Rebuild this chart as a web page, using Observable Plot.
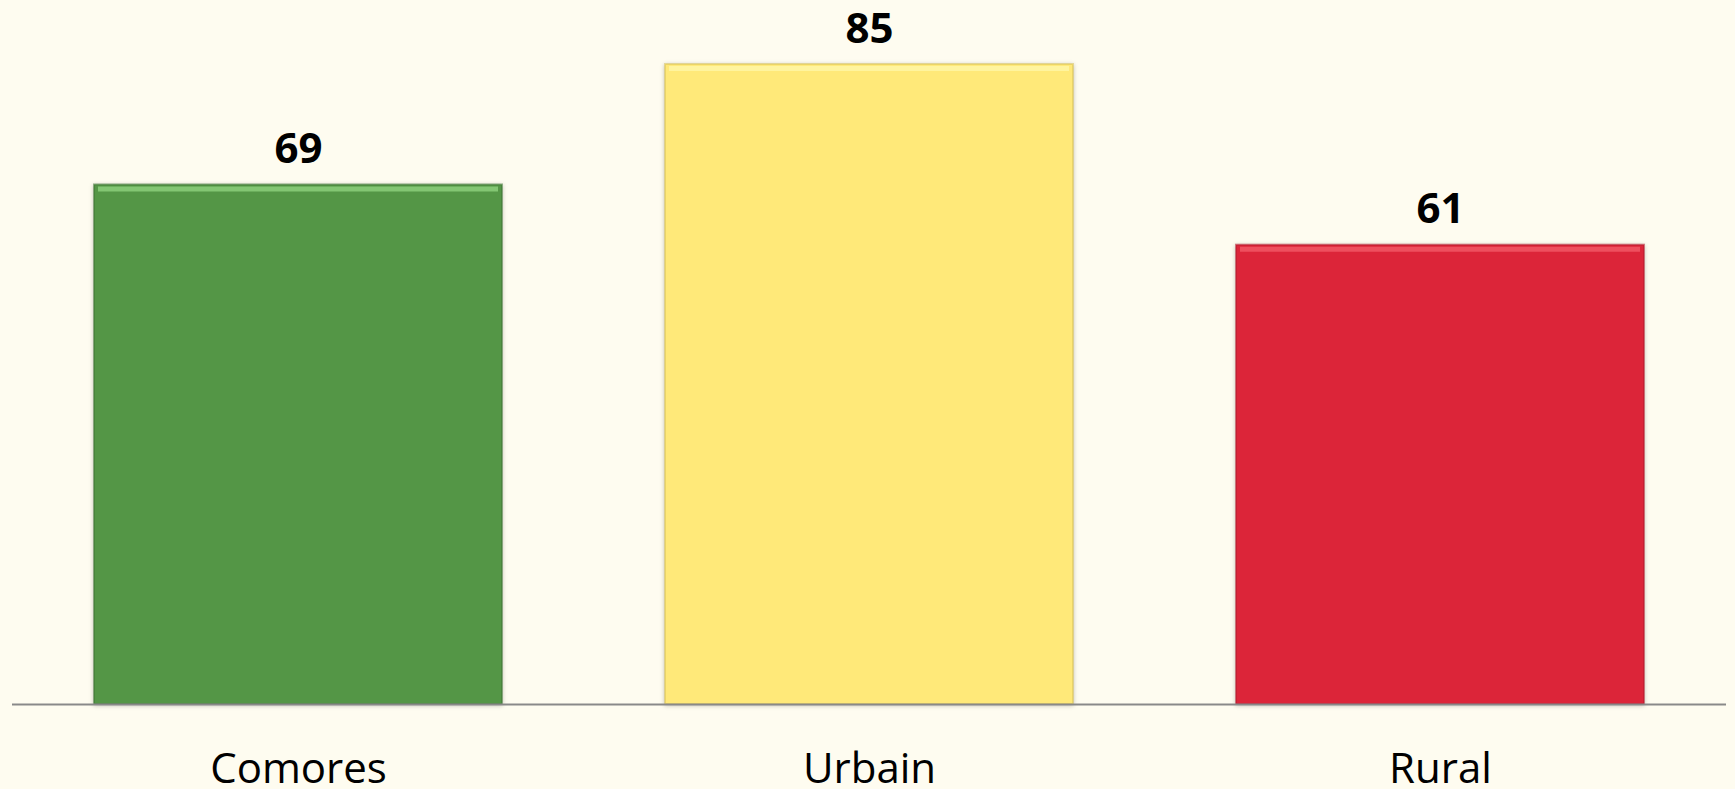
<!DOCTYPE html>
<html>
<head>
<meta charset="utf-8">
<script src="https://cdn.jsdelivr.net/npm/d3@7"></script>
<script src="https://cdn.jsdelivr.net/npm/@observablehq/plot@0.6"></script>
<style>
  html, body { margin: 0; padding: 0; background: #FEFCF0; }
  #chart svg { display: block; }
</style>
</head>
<body>
<div id="chart"></div>
<script>
const categories = ["Comores", "Urbain", "Rural"];
const values = [69, 85, 61];
const colors = ["#549646", "#FFE979", "#DC2539"];
const highlights = ["#8ED27E", "#FFF6A8", "#F25A68"];
const edges = ["#3E7434", "#D9C35A", "#B31C2D"];

const data = categories.map((c, i) => ({category: c, value: values[i], color: colors[i], hi: highlights[i], edge: edges[i]}));

const font = "'Open Sans', 'Noto Sans', sans-serif";

const chart = Plot.plot({
  width: 1735,
  height: 789,
  marginLeft: 12,
  marginRight: 9,
  marginTop: 64,
  marginBottom: 85,
  style: {background: "#FEFCF0", fontFamily: font},
  x: {domain: categories, paddingInner: 0.286, paddingOuter: 0.143, axis: null},
  y: {domain: [0, 85], axis: null},
  marks: [
    Plot.barY(data, {x: "category", y: "value", fill: d => d.color, stroke: d => d.edge, strokeWidth: 2, strokeOpacity: 0.55}),
    Plot.tickY(data, {x: "category", y: "value", stroke: d => d.hi, strokeWidth: 5, dy: 4, inset: 4, strokeOpacity: 0.8}),
    Plot.ruleY([0], {stroke: "#898989", strokeWidth: 2}),
    Plot.text(data, {x: "category", y: "value", text: d => String(d.value), lineAnchor: "bottom", dy: -22, fontSize: 42, fontWeight: "bold", fill: "#000", fontFamily: font}),
    Plot.text(data, {x: "category", y: 0, text: "category", lineAnchor: "bottom", dy: 78, fontSize: 42, fill: "#000", fontFamily: font})
  ]
});

d3.select(chart).selectAll("g[aria-label='bar'] rect").style("filter", "drop-shadow(0px 1px 2px rgba(0,0,0,0.25))");
document.getElementById("chart").appendChild(chart);
</script>
</body>
</html>
